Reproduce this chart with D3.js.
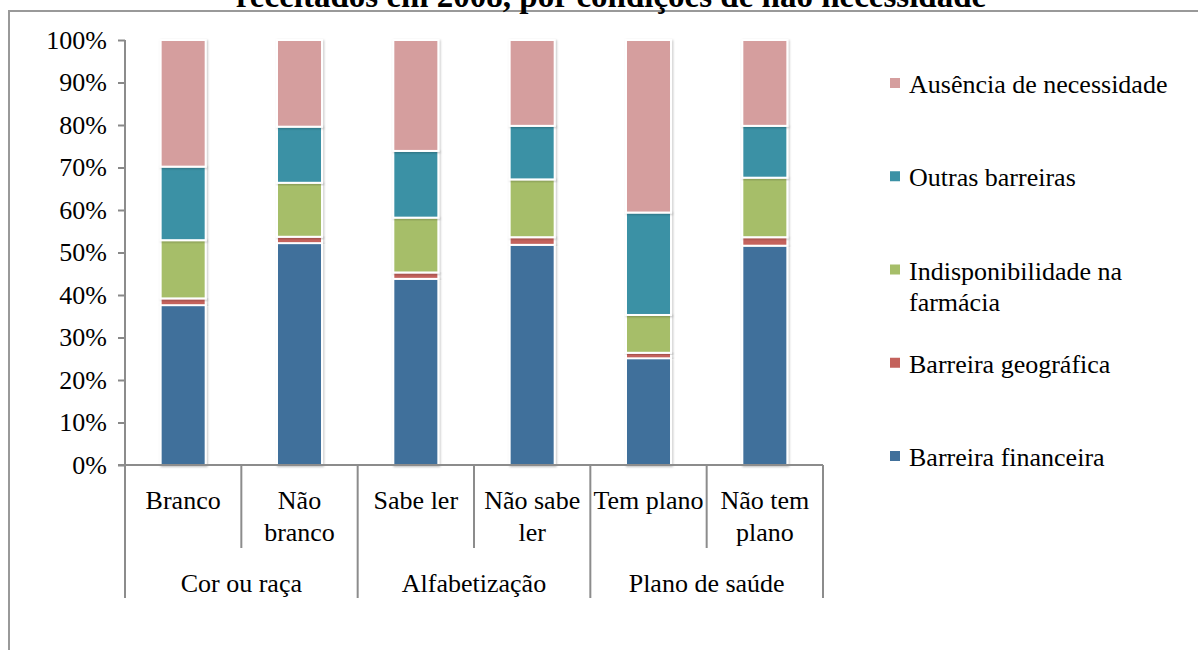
<!DOCTYPE html>
<html>
<head>
<meta charset="utf-8">
<script src="https://cdn.jsdelivr.net/npm/d3@7"></script>
<style>
  body { margin: 0; background: #fff; }
  svg { display: block; font-family: "Liberation Serif", "Times New Roman", serif; }
</style>
</head>
<body>
<div id="chart"></div>
<script>
// data (percent of each bar)
var categories = [["Branco"], ["Não", "branco"], ["Sabe ler"], ["Não sabe", "ler"], ["Tem plano"], ["Não tem", "plano"]];
var groups = ["Cor ou raça", "Alfabetização", "Plano de saúde"];
var seriesNames = ["Barreira financeira", "Barreira geográfica", "Indisponibilidade na farmácia", "Outras barreiras", "Ausência de necessidade"];
var financeira = [37.6, 52.2, 43.8, 51.8, 25.1, 51.6];
var geografica = [1.6, 1.5, 1.5, 1.8, 1.3, 2.0];
var indisponibilidade = [13.7, 12.7, 12.9, 13.6, 8.9, 14.0];
var outras = [17.3, 13.2, 15.7, 12.6, 24.1, 12.2];
var ausencia = [29.8, 20.4, 26.1, 20.2, 40.6, 20.2];
var yTicks = [0, 10, 20, 30, 40, 50, 60, 70, 80, 90, 100];
var colors = ["#41709b", "#c4625c", "#a6be69", "#3b91a5", "#d59e9e"];

var W = 1198, H = 650;
var svg = d3.select('#chart').append('svg').attr('width', W).attr('height', H);

var defs = svg.append('defs');
var f = defs.append('filter').attr('id', 'shadow').attr('x', '-20%').attr('y', '-5%').attr('width', '140%').attr('height', '110%');
f.append('feDropShadow').attr('dx', 1).attr('dy', 1).attr('stdDeviation', 1.2).attr('flood-color', '#000').attr('flood-opacity', 0.25);

// frame
svg.append('rect').attr('x', 9).attr('y', 11).attr('width', 1300).attr('height', 800)
  .attr('fill', 'none').attr('stroke', '#999').attr('stroke-width', 2);

// title (cut off at the top)
svg.append('text').attr('x', 611).attr('y', 7).attr('text-anchor', 'middle')
  .style('font-size', '33px').style('font-weight', 'bold')
  .text('receitados em 2008, por condições de não necessidade');

var plotLeft = 125, plotRight = 823, plotTop = 40, plotBottom = 465;

var x = d3.scaleBand().domain(d3.range(categories.length)).range([plotLeft, plotRight])
  .paddingInner(0.613).paddingOuter(0.3065);
var y = d3.scaleLinear().domain([0, 100]).range([plotBottom, plotTop]);

var rows = categories.map(function (c, i) {
  return { i: i, financeira: financeira[i], geografica: geografica[i], indisponibilidade: indisponibilidade[i], outras: outras[i], ausencia: ausencia[i] };
});
var keys = ["financeira", "geografica", "indisponibilidade", "outras", "ausencia"];
var stacked = d3.stack().keys(keys)(rows);

// y axis
var yAxis = svg.append('g').attr('transform', 'translate(' + plotLeft + ',0)')
  .call(d3.axisLeft(y).tickValues(yTicks).tickSize(7).tickSizeOuter(0).tickFormat(function (d) { return d + '%'; }));
yAxis.select('.domain').remove();
yAxis.selectAll('.tick line').attr('stroke', '#888').attr('stroke-width', 2);
yAxis.selectAll('.tick text').attr('x', -18).attr('fill', '#000')
  .style('font-size', '26px').style('font-family', '"Liberation Serif", serif');

// bars
svg.append('g').selectAll('g').data(stacked).enter().append('g')
  .attr('fill', function (d, i) { return colors[i]; })
  .selectAll('rect').data(function (d) { return d; }).enter().append('rect')
  .attr('x', function (d) { return x(d.data.i); })
  .attr('width', x.bandwidth())
  .attr('y', function (d) { return y(d[1]); })
  .attr('height', function (d) { return y(d[0]) - y(d[1]); })
  .attr('stroke', '#fff').attr('stroke-width', 2)
  .attr('filter', 'url(#shadow)');

// axis lines
var axisColor = '#8c8c8c';
svg.append('line').attr('x1', plotLeft).attr('x2', plotLeft).attr('y1', plotTop).attr('y2', 598)
  .attr('stroke', axisColor).attr('stroke-width', 2);
svg.append('line').attr('x1', plotLeft - 7).attr('x2', plotRight).attr('y1', plotBottom).attr('y2', plotBottom)
  .attr('stroke', axisColor).attr('stroke-width', 2);

// category separators and labels
var step = x.step();
categories.forEach(function (lines, i) {
  var bx = plotLeft + step * (i + 1);
  var groupEnd = (i + 1) % 2 === 0;
  svg.append('line').attr('x1', bx).attr('x2', bx).attr('y1', plotBottom).attr('y2', groupEnd ? 598 : 548)
    .attr('stroke', axisColor).attr('stroke-width', 2);
  var t = svg.append('text').attr('text-anchor', 'middle').style('font-size', '26px');
  lines.forEach(function (s, k) {
    t.append('tspan').attr('x', x(i) + x.bandwidth() / 2).attr('y', 509 + k * 32).text(s);
  });
});
groups.forEach(function (g, j) {
  svg.append('text').attr('x', plotLeft + step * (2 * j + 1)).attr('y', 592)
    .attr('text-anchor', 'middle').style('font-size', '26px').text(g);
});

// legend, top item is the last series
var legendOrder = d3.range(seriesNames.length).reverse();
var ly = d3.scalePoint().domain(legendOrder).range([83, 456]);
var legend = svg.selectAll('.legend').data(legendOrder).enter().append('g')
  .attr('class', 'legend')
  .attr('transform', function (d) { return 'translate(890,' + ly(d) + ')'; });
legend.append('rect').attr('x', 0).attr('y', -5).attr('width', 10).attr('height', 10)
  .attr('fill', function (d) { return colors[d]; });
legend.append('text').style('font-size', '26px').each(function (d) {
  var name = seriesNames[d];
  var parts = name === "Indisponibilidade na farmácia" ? ["Indisponibilidade na", "farmácia"] : [name];
  var t = d3.select(this);
  parts.forEach(function (p, k) {
    t.append('tspan').attr('x', 19).attr('y', 10 + k * 31).text(p);
  });
});
</script>
</body>
</html>
